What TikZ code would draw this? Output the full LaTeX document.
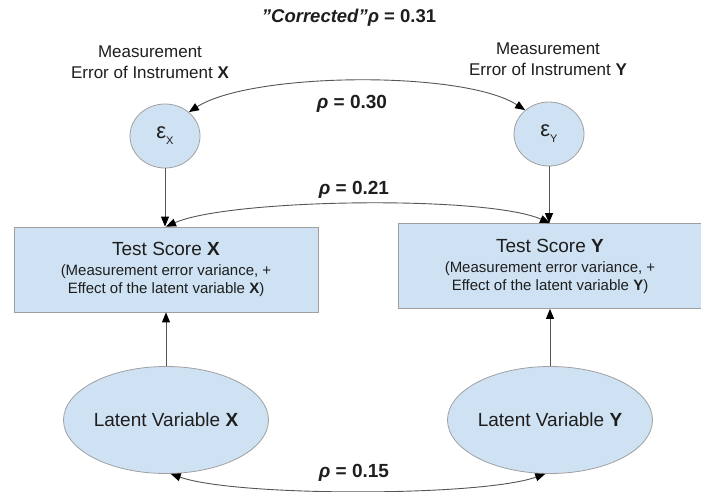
\documentclass[tikz,border=0pt]{standalone}
\usepackage{fontspec}
\setmainfont{Liberation Sans}
\usetikzlibrary{arrows.meta,shapes.geometric}

\definecolor{boxfill}{HTML}{CFE2F3}
\definecolor{boxline}{HTML}{A0A0A0}
\definecolor{linkline}{HTML}{555555}
\definecolor{inktext}{HTML}{1E1E1E}

\begin{document}
\begin{tikzpicture}[x=1pt, y=-1pt,
	>={Triangle[length=10pt,width=8pt,black]},
	every node/.style={text=inktext, inner sep=0pt},
	errnode/.style={ellipse, draw=boxline, fill=boxfill, line width=0.8pt,
		minimum width=70pt, minimum height=64pt, font=\fontsize{22}{24}\selectfont},
	scorebox/.style={rectangle, draw=boxline, fill=boxfill, line width=0.8pt,
		minimum width=304pt, minimum height=85pt, align=center,
		font=\fontsize{15}{18}\selectfont},
	latentnode/.style={ellipse, draw=boxline, fill=boxfill, line width=0.8pt,
		minimum width=205pt, minimum height=107pt, font=\fontsize{19}{21}\selectfont},
	link/.style={draw=linkline, line width=0.9pt, ->},
	corr/.style={draw=linkline, line width=0.9pt, <->},
	rholabel/.style={font=\fontsize{19}{21}\selectfont\bfseries},
	notelabel/.style={align=center, font=\fontsize{17}{21}\selectfont},
]

% parameters %{{{2

	\def\subX{\raisebox{-6pt}{\fontsize{11}{11}\selectfont X}}
	\def\subY{\raisebox{-6pt}{\fontsize{11}{11}\selectfont Y}}

	\useasboundingbox (0,0) rectangle (701,492);

% title %{{{2

	\node[font=\fontsize{18.5}{20}\selectfont\bfseries] (title) at (349,18)
		{\textit{"Corrected"}\textit{ρ} = 0.31};

% error terms %{{{2

	\node[notelabel] (noteX) at (150,62) {Measurement\\Error of Instrument \textbf{X}};
	\node[notelabel] (noteY) at (548,59) {Measurement\\Error of Instrument \textbf{Y}};

	\node[errnode] (errX) at (165,136) {ε\subX};
	\node[errnode] (errY) at (549,134) {ε\subY};

% test scores %{{{2

	\node[scorebox] (scoreX) at (166,269.5)
		{{\fontsize{19}{21}\selectfont Test Score \textbf{X}}\\[2pt]
		(Measurement error variance, +\\
		Effect of the latent variable \textbf{X})};
	\node[scorebox] (scoreY) at (550,266)
		{{\fontsize{19}{21}\selectfont Test Score \textbf{Y}}\\[2pt]
		(Measurement error variance, +\\
		Effect of the latent variable \textbf{Y})};

% latent variables %{{{2

	\node[latentnode] (latX) at (166,420) {Latent Variable \textbf{X}};
	\node[latentnode] (latY) at (550,420) {Latent Variable \textbf{Y}};

% paths %{{{2

	\draw[link] (errX.south) -- (errX.south |- scoreX.north);
	\draw[link] (errY.south) -- (errY.south |- scoreY.north);
	\draw[link] (latX.north) -- (scoreX.south);
	\draw[link] (latY.north) -- (scoreY.south);

% correlations %{{{2

	\draw[corr] (errX.45) .. controls +(62,-40) and +(-62,-40) .. (errY.135);
	\draw[corr] (scoreX.north) .. controls +(64,-28) and +(-64,-28) .. (scoreY.north);
	\draw[corr] (latX.-85) .. controls +(65,23) and +(-65,23) .. (latY.-95);

	\node[rholabel] (rho30) at (352,104) {\textit{ρ} = 0.30};
	\node[rholabel] (rho21) at (354,190) {\textit{ρ} = 0.21};
	\node[rholabel] (rho15) at (354,473) {\textit{ρ} = 0.15};

% closing %{{{2

\end{tikzpicture}
\end{document}
